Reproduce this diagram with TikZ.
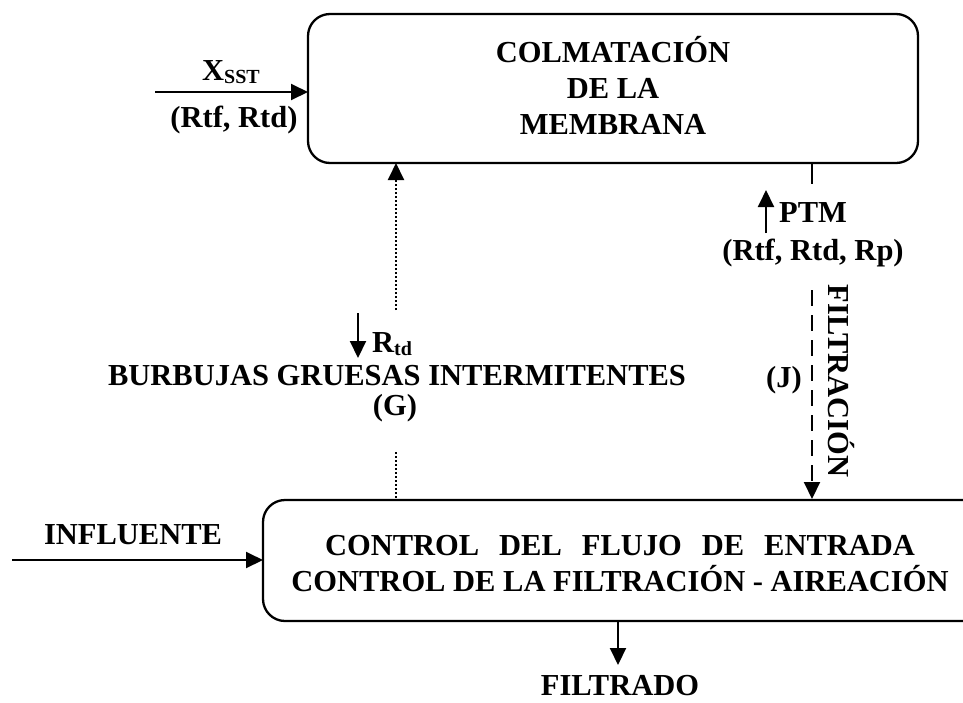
\documentclass[tikz,border=0pt]{standalone}
\usepackage{fontspec}
\setmainfont{Liberation Serif}
\usetikzlibrary{arrows.meta}
\newcommand{\subx}[1]{\raisebox{-3pt}{\fontsize{20}{22}\selectfont #1}}
\begin{document}
\begin{tikzpicture}[x=1pt,y=-1pt,
  lbl/.style={font=\fontsize{30.5}{36}\selectfont\bfseries, inner sep=0pt, align=center},
  boxA/.style={draw, line width=2.3pt, rounded corners=22pt},
  tip/.style={-{Triangle[length=17pt,width=16pt]}},
  arr/.style={line width=2pt, tip},
  dotarr/.style={line width=2pt, dash pattern=on 2pt off 2pt, tip}]
\useasboundingbox (0,0) rectangle (963,702);
\clip (0,0) rectangle (963,702);
% boxes
\draw[boxA] (308,14) rectangle (918,163);
\node[lbl] (colm) at (613,85) {COLMATACIÓN\\DE LA\\MEMBRANA};
\coordinate (topL) at (308,92);
\draw[boxA] (263,500) rectangle (985,621);
\node[lbl] (ctrl) at (620,564) {\makebox[590pt][s]{CONTROL DEL FLUJO DE ENTRADA}\\CONTROL DE LA FILTRACIÓN - AIREACIÓN};
% X_SST input
\coordinate (xs) at (155,92);
\draw[arr] (xs) -- (topL);
\node[lbl] (xsst) at (231,72) {X\subx{SST}};
\node[lbl] (rtf1) at (234,120) {(Rtf, Rtd)};
% dotted arrow
\coordinate (d1) at (396,310);
\coordinate (d1t) at (396,163);
\draw[dotarr] (d1) -- (d1t);
\coordinate (d2) at (396,452);
\coordinate (d2b) at (396,500);
\draw[line width=2pt, dash pattern=on 2pt off 2pt] (d2) -- (d2b);
\coordinate (rs) at (358,313);
\coordinate (re) at (358,358);
\draw[arr] (rs) -- (re);
\node[lbl, anchor=base west] (rtd) at (372,352) {R\subx{td}};
\node[lbl] (burb) at (397,376) {BURBUJAS GRUESAS INTERMITENTES};
\node[lbl] (g) at (395,408) {(G)};
% right side
\coordinate (p1) at (812,163);
\coordinate (p2) at (812,184);
\draw[line width=2pt] (p1) -- (p2);
\coordinate (u1) at (766,233);
\coordinate (u2) at (766,190);
\draw[arr] (u1) -- (u2);
\node[lbl, anchor=base west] (ptm) at (779,222) {PTM};
\node[lbl] (rtf2) at (813,253) {(Rtf, Rtd, Rp)};
\coordinate (j1) at (812,290);
\coordinate (j2) at (812,499);
\draw[arr, dash pattern=on 16pt off 9pt] (j1) -- (j2);
\node[lbl] (j) at (784,380) {(J)};
\node[lbl, rotate=-90] (filt) at (841,381) {FILTRACIÓN};
% influente
\node[lbl] (inf) at (133,535) {INFLUENTE};
\coordinate (i1) at (12,560);
\coordinate (i2) at (263,560);
\draw[arr] (i1) -- (i2);
% filtrado
\coordinate (f1) at (618,621);
\coordinate (f2) at (618,665);
\draw[arr] (f1) -- (f2);
\node[lbl] (fil) at (620,686) {FILTRADO};
\end{tikzpicture}
\end{document}
